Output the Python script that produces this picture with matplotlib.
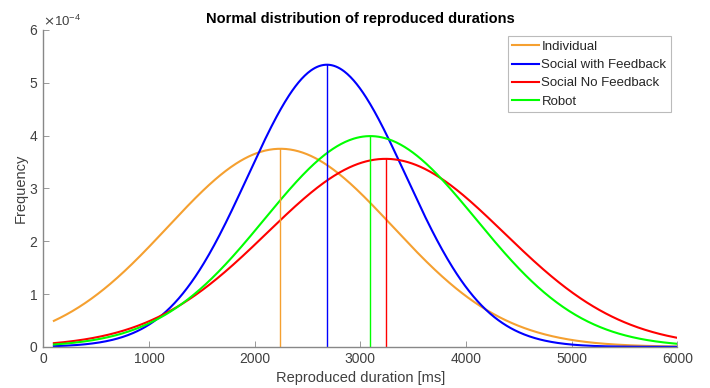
import matplotlib.pyplot as plt
import numpy as np

plt.rcParams['font.family'] = ['Liberation Sans', 'DejaVu Sans']

# groups, estimated mean and sd of each fitted normal curve (ms)
groups = ['Individual', 'Social with Feedback', 'Social No Feedback', 'Robot']
means = [2244, 2684, 3239, 3094]
sds = [1064, 747, 1121, 1000]
colors = ['#F5A030', '#0000FF', '#FF0000', '#00FF00']

x_start = 100
x_end = 6000
x_ticks = [0, 1000, 2000, 3000, 4000, 5000, 6000]
y_ticks = [0, 1e-4, 2e-4, 3e-4, 4e-4, 5e-4, 6e-4]

gray = '#404040'

fig = plt.figure(figsize=(7.1, 3.88), dpi=100)
ax = fig.add_axes([0.061, 0.106, 0.893, 0.817])

x = np.linspace(x_start, x_end, 600)
for name, m, s, c in zip(groups, means, sds, colors):
    y = np.exp(-0.5 * ((x - m) / s) ** 2) / (s * np.sqrt(2 * np.pi))
    ax.plot(x, y, color=c, lw=1.5, label=name)
for m, s, c in zip(means, sds, colors):
    peak = 1 / (s * np.sqrt(2 * np.pi))
    ax.plot([m, m], [0, peak], color=c, lw=1.0)

ax.set_xlim(0, 6000)
ax.set_ylim(0, 6e-4)
ax.set_xticks(x_ticks)
ax.set_yticks(y_ticks)
ax.ticklabel_format(axis='y', style='sci', scilimits=(0, 0), useMathText=True)
ax.yaxis.get_offset_text().set_fontsize(9.5)
ax.yaxis.get_offset_text().set_color(gray)

for side in ['top', 'right']:
    ax.spines[side].set_visible(False)
for side in ['left', 'bottom']:
    ax.spines[side].set_color('#888888')
    ax.spines[side].set_linewidth(1.0)
ax.tick_params(direction='in', length=4, width=0.6, color='#888888',
               labelcolor=gray, labelsize=10)

ax.set_title('Normal distribution of reproduced durations', fontsize=10.5,
             fontweight='bold', color='black', pad=5)
ax.set_xlabel('Reproduced duration [ms]', fontsize=10.5, color=gray, labelpad=4)
ax.set_ylabel('Frequency', fontsize=10.5, color=gray, labelpad=1)

leg = ax.legend(loc='upper right', bbox_to_anchor=(0.99, 0.98), fontsize=9.5,
                frameon=True, fancybox=False, handlelength=2.0,
                handletextpad=0.2, borderpad=0.35, labelspacing=0.45,
                borderaxespad=0)
leg.get_frame().set_edgecolor('#aaaaaa')
leg.get_frame().set_linewidth(0.8)
for t in leg.get_texts():
    t.set_color('#262626')

fig.savefig('out.png', dpi=100)
